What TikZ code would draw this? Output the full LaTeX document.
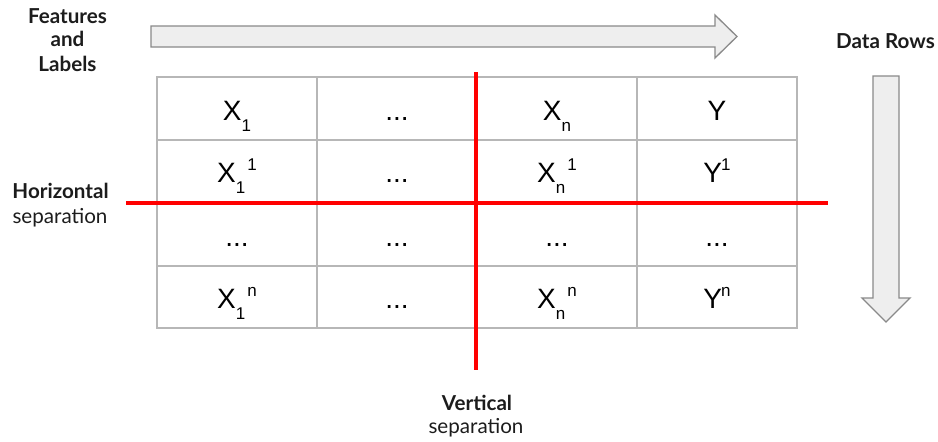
\documentclass[tikz,border=0pt]{standalone}
\usepackage{fontspec}
\setmainfont{Lato}
\newfontfamily\cellfont{Liberation Sans}
\definecolor{gridgrey}{HTML}{B7B7B7}
\definecolor{sepred}{HTML}{FF0000}
\definecolor{arrowfill}{HTML}{EEEEEE}
\definecolor{arrowline}{HTML}{8A8A8A}
\definecolor{labeltext}{HTML}{1C1C1C}
% lowered / raised indices, set one after the other
\newcommand\idxlow[1]{\raisebox{-11pt}{\fontsize{17}{17}\selectfont #1}}
\newcommand\idxhigh[1]{\raisebox{12pt}{\fontsize{17}{17}\selectfont #1}}
\begin{document}
\begin{tikzpicture}[x=1pt,y=-1pt,
  cell/.style={anchor=base, inner sep=0pt, text=black,
    font=\cellfont\fontsize{28}{28}\selectfont},
  gridline/.style={draw=gridgrey, line width=1.5pt},
  sepline/.style={draw=sepred, line width=3.3pt},
  bigarrow/.style={fill=arrowfill, draw=arrowline, line width=1.3pt, line join=miter},
  boldlabel/.style={anchor=base, inner sep=0pt, text=labeltext,
    font=\bfseries\fontsize{20.6}{24}\selectfont},
  plainlabel/.style={anchor=base, inner sep=0pt, text=labeltext,
    font=\fontsize{20.6}{24}\selectfont}]
\useasboundingbox (0,0) rectangle (938,442);
\fill[white] (0,0) rectangle (938,442);

% table grid
\draw[gridline] (157,77) rectangle (797,328);
\foreach \x in {317,477,637} \draw[gridline] (\x,77) -- (\x,328);
\foreach \y in {140,203,266} \draw[gridline] (157,\y) -- (797,\y);

% cell contents
\node[cell] (c11) at (237,120) {X\idxlow{1}};
\node[cell] (c12) at (397,120) {...};
\node[cell] (c13) at (557,120) {X\idxlow{n}};
\node[cell] (c14) at (717,120) {Y};
\node[cell] (c21) at (237,182) {X\idxlow{1}\hspace{2pt}\idxhigh{1}};
\node[cell] (c22) at (397,182) {...};
\node[cell] (c23) at (557,182) {X\idxlow{n}\hspace{2pt}\idxhigh{1}};
\node[cell] (c24) at (717,182) {Y\kern-1pt\idxhigh{1}};
\node[cell] (c31) at (237,246) {...};
\node[cell] (c32) at (397,246) {...};
\node[cell] (c33) at (557,246) {...};
\node[cell] (c34) at (717,246) {...};
\node[cell] (c41) at (237,308) {X\idxlow{1}\hspace{2pt}\idxhigh{n}};
\node[cell] (c42) at (397,308) {...};
\node[cell] (c43) at (557,308) {X\idxlow{n}\hspace{2pt}\idxhigh{n}};
\node[cell] (c44) at (717,308) {Y\kern-1pt\idxhigh{n}};

% separation lines
\coordinate (vtop) at (476,72);
\coordinate (vbot) at (476,370);
\coordinate (hleft) at (126,203);
\coordinate (hright) at (828,203);
\draw[sepline] (vtop) -- (vbot);
\draw[sepline] (hleft) -- (hright);

% direction arrows
\draw[bigarrow] (151,26) -- (715,26) -- (715,15) -- (737,36.5) -- (715,58)
  -- (715,47) -- (151,47) -- cycle;
\draw[bigarrow] (873,76) -- (899,76) -- (899,298) -- (910,298) -- (886,322)
  -- (862,298) -- (873,298) -- cycle;

% labels
\node[boldlabel] (feat1) at (67.5,23) {Features};
\node[boldlabel] (feat2) at (67.5,46.5) {and};
\node[boldlabel] (feat3) at (67.5,71) {Labels};
\node[boldlabel] (rows) at (885.5,48) {Data Rows};
\node[boldlabel] (horiz1) at (60.5,198) {Horizontal};
\node[plainlabel] (horiz2) at (60,223) {separation};
\node[boldlabel] (vert1) at (477,410) {Vertical};
\node[plainlabel] (vert2) at (476,433) {separation};
\end{tikzpicture}
\end{document}
